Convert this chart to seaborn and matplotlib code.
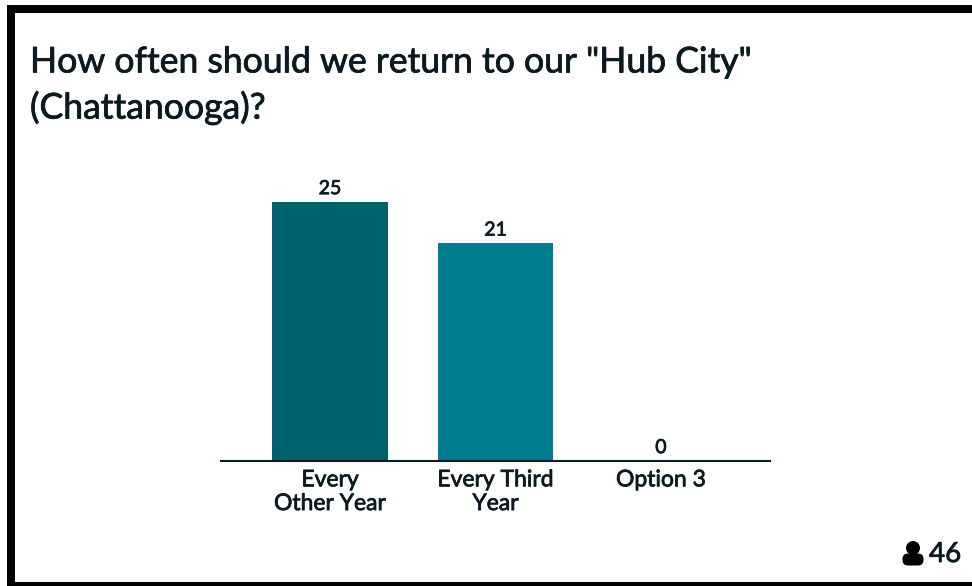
import matplotlib
matplotlib.use("Agg")
import matplotlib.pyplot as plt
from matplotlib.patches import Ellipse, FancyBboxPatch, Rectangle
import matplotlib.patheffects as pe
import pandas as pd
import seaborn as sns

categories = ["Every\nOther Year", "Every Third\nYear", "Option 3"]
votes = [25, 21, 0]
bar_colors = ["#00606B", "#007D8C", "#0093A5"]
title = 'How often should we return to our "Hub City"\n(Chattanooga)?'
respondents = "46"

W, H = 972, 586
INK = "#0B1A20"

sns.set_theme(style="white")
plt.rcParams["font.family"] = ["Lato", "DejaVu Sans"]

# A thin outline in the text colour gives Lato a medium weight
medium = [pe.withStroke(linewidth=0.55, foreground=INK)]

fig = plt.figure(figsize=(W / 100, H / 100), dpi=100, facecolor="white")

# Slide frame and person icon live on a full-figure layer in pixel units
layer = fig.add_axes([0, 0, 1, 1], zorder=0)
layer.set_xlim(0, W)
layer.set_ylim(H, 0)
layer.axis("off")
for x, y, w, h in [(7, 5, W - 7, 8), (7, 5, 8, H - 5), (7, 582, W - 7, 4)]:
    layer.add_patch(Rectangle((x, y), w, h, facecolor="black", edgecolor="none"))
layer.add_patch(Ellipse((913, 548), 14, 14, facecolor="black", edgecolor="none"))
layer.add_patch(FancyBboxPatch((902.5, 553.5), 21, 12, boxstyle="round,pad=0,rounding_size=5.5",
                               facecolor="black", edgecolor="none"))

# Chart area: baseline runs from x=221 to x=770 at y=461
ax = fig.add_axes([221 / W, 1 - 461 / H, 549 / W, 310 / H], zorder=1)
ax.patch.set_alpha(0)
df = pd.DataFrame({"option": categories, "votes": votes})
sns.barplot(data=df, x="option", y="votes", hue="option", palette=bar_colors,
            width=0.7, legend=False, saturation=1, linewidth=0, ax=ax)
ax.set_xlim(-0.659, 2.659)
ax.set_ylim(0, 310 / 10.36)
ax.set_xlabel("")
ax.set_ylabel("")
ax.set_yticks([])
ax.tick_params(axis="x", length=0, pad=6, labelsize=16.5, labelcolor=INK)
for label in ax.get_xticklabels():
    label.set_linespacing(1.16)
    label.set_path_effects(medium)
for side in ("top", "left", "right"):
    ax.spines[side].set_visible(False)
ax.spines["bottom"].set_color(INK)
ax.spines["bottom"].set_linewidth(1.5)

for container in ax.containers:
    for text in ax.bar_label(container, padding=3.5, fontsize=14, color=INK):
        text.set_path_effects(medium)

fig.text(30 / W, 1 - 85 / H, title, fontsize=25.6, color=INK, va="center", ha="left",
         linespacing=1.4, zorder=3, path_effects=medium)
fig.text(929 / W, 1 - 554 / H, respondents, fontsize=20, color=INK, va="center", ha="left",
         zorder=3, path_effects=medium)

fig.savefig("out.png", dpi=100, facecolor="white")
